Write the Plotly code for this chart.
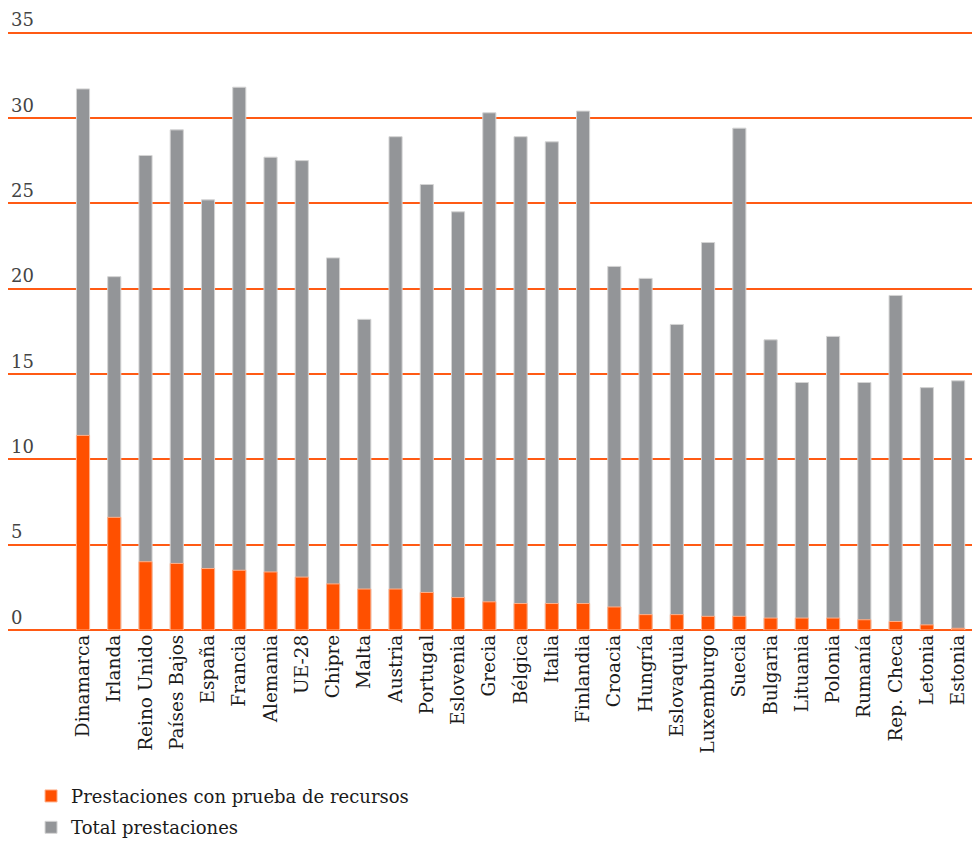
import plotly.graph_objects as go

countries = ["Dinamarca", "Irlanda", "Reino Unido", "Países Bajos", "España", "Francia",
             "Alemania", "UE-28", "Chipre", "Malta", "Austria", "Portugal", "Eslovenia",
             "Grecia", "Bélgica", "Italia", "Finlandia", "Croacia", "Hungría", "Eslovaquia",
             "Luxemburgo", "Suecia", "Bulgaria", "Lituania", "Polonia", "Rumanía",
             "Rep. Checa", "Letonia", "Estonia"]

total = [31.7, 20.7, 27.8, 29.3, 25.2, 31.8, 27.7, 27.5, 21.8, 18.2, 28.9, 26.1, 24.5,
         30.3, 28.9, 28.6, 30.4, 21.3, 20.6, 17.9, 22.7, 29.4, 17.0, 14.5, 17.2, 14.5,
         19.6, 14.2, 14.6]
means_tested = [11.4, 6.6, 4.0, 3.9, 3.6, 3.5, 3.4, 3.1, 2.7, 2.4, 2.4, 2.2, 1.9,
                1.65, 1.55, 1.55, 1.55, 1.35, 0.9, 0.9, 0.8, 0.8, 0.7, 0.7, 0.7, 0.6,
                0.5, 0.3, 0.1]
y_ticks = [0, 5, 10, 15, 20, 25, 30, 35]

FONT = "DejaVu Serif"
ORANGE = "#ff5000"
GRID = "#ff5a14"
GRAY = "#939598"

fig = go.Figure()
fig.add_trace(go.Bar(x=countries, y=total, name="Total prestaciones",
                     marker=dict(color=GRAY, line=dict(color="#d4d4d4", width=1)),
                     width=0.42, legendrank=2, legendgroup="b"))
fig.add_trace(go.Bar(x=countries, y=means_tested, name="Prestaciones con prueba de recursos",
                     marker=dict(color=ORANGE, line=dict(color="#ffb08a", width=1)),
                     width=0.42, legendrank=1, legendgroup="a"))

fig.update_layout(
    barmode="overlay",
    width=972, height=860,
    margin=dict(l=0, r=0, t=0, b=238),
    plot_bgcolor="white", paper_bgcolor="white",
    font=dict(family=FONT, size=18, color="#1a1a1a"),
    legend=dict(x=0.0237, y=-0.2375, xanchor="left", yanchor="top",
                font=dict(family=FONT, size=18), traceorder="grouped",
                itemwidth=30, tracegroupgap=5),
    showlegend=True,
)
fig.update_xaxes(type="category", range=[-2.4, 28.7], tickangle=-90,
                 showgrid=False, showline=False, ticks="", ticklen=0,
                 automargin=False,
                 tickfont=dict(family=FONT, size=18.5))
fig.update_yaxes(range=[0, 36.44], tickvals=y_ticks, ticktext=[str(v) for v in y_ticks],
                 showgrid=True, gridcolor=GRID, gridwidth=1.5,
                 zeroline=True, zerolinecolor=GRID, zerolinewidth=1.5,
                 showline=False, ticks="", ticklabelposition="inside top",
                 automargin=False,
                 tickfont=dict(family=FONT, size=18))

fig.write_html("out.html")
